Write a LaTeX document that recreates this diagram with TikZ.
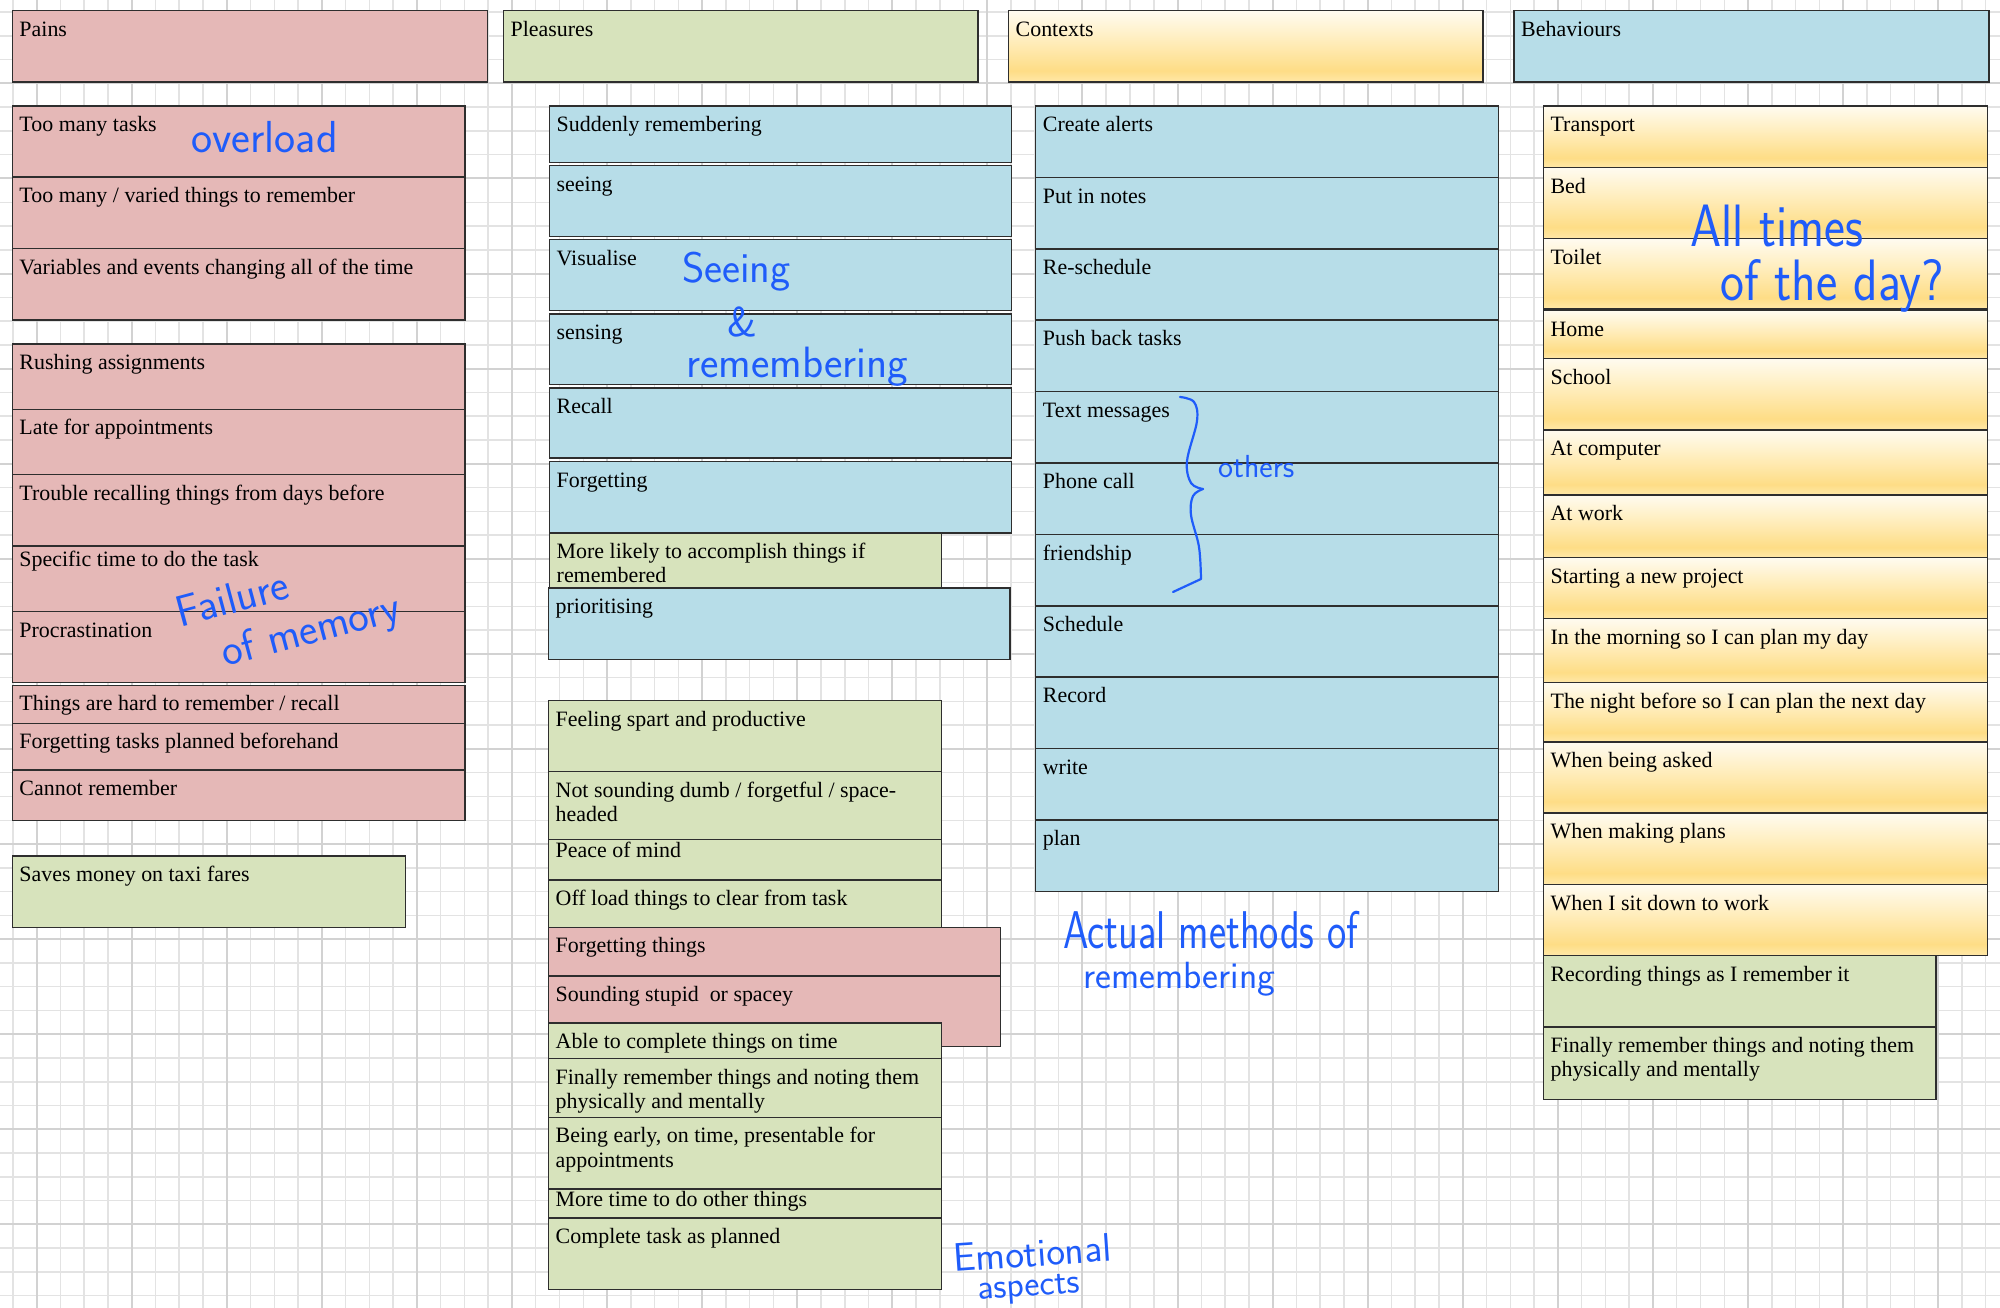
\documentclass[tikz,border=0pt]{standalone}
\usepackage{fontspec}
\setmainfont{Liberation Serif}
\definecolor{pinkF}{HTML}{E5B8B7}
\definecolor{greenF}{HTML}{D7E3BC}
\definecolor{blueF}{HTML}{B7DDE8}
\definecolor{edgeC}{HTML}{2E2E2E}
\definecolor{inkC}{HTML}{1F5CFA}
\definecolor{gridMinor}{HTML}{E3E3E3}
\definecolor{gridMajor}{HTML}{D2D2D2}
\definecolor{yTop}{HTML}{FFFBF0}
\definecolor{yMid}{HTML}{FFF0C6}
\definecolor{yGold}{HTML}{FEDD86}
\definecolor{yBot}{HTML}{FFE8A8}
\pgfdeclareverticalshading{yshade}{100bp}{color(0bp)=(yBot); color(25bp)=(yBot); color(33bp)=(yGold); color(58bp)=(yMid); color(75bp)=(yTop); color(100bp)=(yTop)}
\newcommand{\handfont}[1]{\sffamily\fontsize{#1}{#1}\selectfont}
\newcommand{\card}[8][8.6]{%
  \node[#3, minimum width=#6bp, minimum height=#7bp] (#2) at (#4,#5) {};
  \node[txt] (#2t) at ([xshift=7bp,yshift=-#1bp]#2.north west) {\strut#8};
}
\tikzset{
  box/.style={draw=edgeC, line width=1.5bp, anchor=north west, inner sep=0pt, outer sep=0pt},
  pinkbox/.style={box, fill=pinkF},
  greenbox/.style={box, fill=greenF},
  bluebox/.style={box, fill=blueF},
  yelbox/.style={box, shade, shading=yshade},
  txt/.style={anchor=north west, inner sep=0pt, align=left, text=black, font=\fontsize{22}{24.2}\selectfont},
  hand/.style={text=inkC, inner sep=0pt, anchor=base west},
  gminor/.style={draw=gridMinor, line width=1.5bp},
  gmajor/.style={draw=gridMajor, line width=2bp},
  inkline/.style={draw=inkC, line width=2.2bp, line cap=round, line join=round}
}
\begin{document}
\begin{tikzpicture}[x=1bp,y=-1bp]
\useasboundingbox (0,0) rectangle (2000,1308);
\fill[white] (0,0) rectangle (2000,1308);
% grid
\foreach \i in {0,...,83} \draw[gminor] ({12.8+23.77*\i},0) -- ({12.8+23.77*\i},1308);
\foreach \j in {0,...,54} \draw[gminor] (0,{12.1+23.77*\j}) -- (2000,{12.1+23.77*\j});
\foreach \i in {1,5,...,81} \draw[gmajor] ({12.8+23.77*\i},0) -- ({12.8+23.77*\i},1308);
\foreach \j in {3,7,...,51} \draw[gmajor] (0,{12.1+23.77*\j}) -- (2000,{12.1+23.77*\j});

% headers
\card{hPain}{pinkbox}{12.3}{10.7}{475}{71.3}{Pains}
\card{hPleas}{greenbox}{503.5}{10.7}{474.5}{71.3}{Pleasures}
\card{hCont}{yelbox}{1008.5}{10.7}{474.5}{71.3}{Contexts}
\card{hBeh}{bluebox}{1514}{10.7}{475}{71.3}{Behaviours}

% pains column
\card{p1}{pinkbox}{12.3}{106}{452.5}{71}{Too many tasks}
\card{p2}{pinkbox}{12.3}{177}{452.5}{71.5}{Too many / varied things to remember}
\card{p3}{pinkbox}{12.3}{248.5}{452.5}{71.5}{Variables and events changing all of the time}
\card{p4}{pinkbox}{12.3}{344}{452.5}{65.3}{Rushing assignments}
\card{p5}{pinkbox}{12.3}{409.3}{452.5}{65.4}{Late for appointments}
\card{p6}{pinkbox}{12.3}{474.7}{452.5}{71.3}{Trouble recalling things from days before}
\card[3]{p7}{pinkbox}{12.3}{546}{452.5}{65.7}{Specific time to do the task}
\card{p8}{pinkbox}{12.3}{611.7}{452.5}{71}{Procrastination}
\card{p9}{pinkbox}{12.3}{685.3}{452.5}{38}{Things are hard to remember / recall}
\card{p10}{pinkbox}{12.3}{723.3}{452.5}{46.7}{Forgetting tasks planned beforehand}
\card{p11}{pinkbox}{12.3}{770}{452.5}{50.7}{Cannot remember}
\card{p12}{greenbox}{12.3}{856}{393.4}{71.7}{Saves money on taxi fares}

% pleasures column
\card{q1}{bluebox}{549.5}{106}{462}{56.5}{Suddenly remembering}
\card{q2}{bluebox}{549.5}{165.7}{462}{71}{seeing}
\card{q3}{bluebox}{549.5}{239.7}{462}{71}{Visualise}
\card{q4}{bluebox}{549.5}{314}{462}{70.5}{sensing}
\card{q5}{bluebox}{549.5}{387.8}{462}{70.4}{Recall}
\card{q6}{bluebox}{549.5}{461.7}{462}{71.5}{Forgetting}
\card{q7}{greenbox}{549.5}{533.2}{391.8}{55}{More likely to accomplish things if\\remembered}
\card{q8}{bluebox}{548.5}{588.2}{461.7}{71.2}{prioritising}
\card{q9}{greenbox}{548.5}{700.5}{392.8}{71.2}{Feeling spart and productive}
\card{q10}{greenbox}{548.5}{771.7}{392.8}{67.6}{Not sounding dumb / forgetful / space-\\headed}
\card[1.6]{q11}{greenbox}{548.5}{839.3}{392.8}{40.7}{Peace of mind}
\card{q12}{greenbox}{548.5}{880}{392.8}{47.3}{Off load things to clear from task}
\card{q13}{pinkbox}{548.5}{927.3}{452}{48.5}{Forgetting things}
\card{q14}{pinkbox}{548.5}{975.8}{452}{70.5}{Sounding stupid\ \ or spacey}
\card{q15}{greenbox}{548.5}{1023}{392.8}{35.7}{Able to complete things on time}
\card{q16}{greenbox}{548.5}{1058.7}{392.8}{58.6}{Finally remember things and noting them\\physically and mentally}
\card{q17}{greenbox}{548.5}{1117.3}{392.8}{71.5}{Being early, on time, presentable for\\appointments}
\card[1.1]{q18}{greenbox}{548.5}{1188.8}{392.8}{29.2}{More time to do other things}
\card{q19}{greenbox}{548.5}{1218}{392.8}{71.5}{Complete task as planned}

% contexts column
\card{c1}{bluebox}{1035.7}{106}{463}{71.4}{Create alerts}
\card{c2}{bluebox}{1035.7}{177.4}{463}{71.4}{Put in notes}
\card{c3}{bluebox}{1035.7}{248.8}{463}{71.4}{Re-schedule}
\card{c4}{bluebox}{1035.7}{320.2}{463}{71.4}{Push back tasks}
\card{c5}{bluebox}{1035.7}{391.6}{463}{71.4}{Text messages}
\card{c6}{bluebox}{1035.7}{463}{463}{71.4}{Phone call}
\card{c7}{bluebox}{1035.7}{534.4}{463}{71.4}{friendship}
\card{c8}{bluebox}{1035.7}{605.8}{463}{71.4}{Schedule}
\card{c9}{bluebox}{1035.7}{677.2}{463}{71.4}{Record}
\card{c10}{bluebox}{1035.7}{748.6}{463}{71.4}{write}
\card{c11}{bluebox}{1035.7}{820}{463}{71.4}{plan}

% behaviours column
\card{b1}{yelbox}{1543.4}{106}{444}{61.7}{Transport}
\card{b2}{yelbox}{1543.4}{167.7}{444}{71}{Bed}
\card{b3}{yelbox}{1543.4}{238.7}{444}{70.3}{Toilet}
\card{b4}{yelbox}{1543.4}{310.5}{444}{48}{Home}
\card{b5}{yelbox}{1543.4}{358.5}{444}{71.5}{School}
\card{b6}{yelbox}{1543.4}{430}{444}{65}{At computer}
\card{b7}{yelbox}{1543.4}{495}{444}{62.4}{At work}
\card{b8}{yelbox}{1543.4}{557.4}{444}{61.2}{Starting a new project}
\card{b9}{yelbox}{1543.4}{618.6}{444}{64}{In the morning so I can plan my day}
\card{b10}{yelbox}{1543.4}{682.6}{444}{59.5}{The night before so I can plan the next day}
\card{b11}{yelbox}{1543.4}{742.1}{444}{71}{When being asked}
\card{b12}{yelbox}{1543.4}{813.1}{444}{71.5}{When making plans}
\card{b13}{yelbox}{1543.4}{884.6}{444}{71}{When I sit down to work}
\card{b14}{greenbox}{1543.4}{955.6}{392.8}{71.5}{Recording things as I remember it}
\card{b15}{greenbox}{1543.4}{1027.1}{392.8}{72.5}{Finally remember things and noting them\\physically and mentally}

% handwritten notes
\node[hand, font=\handfont{45}] (nOverload) at (191,153) {overload};
\node[hand, font={\sffamily\fontsize{44}{50}\selectfont}, rotate=15, anchor=north west, align=left] (nFail) at (172,598) {Failure\\\hspace*{34bp}of memory};
\node[hand, font=\handfont{43}] (nSee) at (682,283) {Seeing};
\node[hand, font=\handfont{42}, anchor=center] (nAmp) at (742,322) {\&};
\node[hand, font=\handfont{44}] (nRem) at (686,378) {remembering};
\node[hand, font=\handfont{50}, yscale=1.2] (nAll) at (1690,247) {All times};
\node[hand, font=\handfont{51}, yscale=1.15] (nDay) at (1720,301) {of the day?};
\node[hand, font=\handfont{32}] (nOthers) at (1218,477) {others};
\node[hand, font=\handfont{41}, yscale=1.3] (nAct) at (1063,948) {Actual methods of};
\node[hand, font=\handfont{38}] (nRem2) at (1083,988) {remembering};
\node[hand, font=\handfont{40}, rotate=4] (nEmo) at (954,1272) {Emotional};
\node[hand, font=\handfont{36}, rotate=4] (nAsp) at (978,1300) {aspects};

% hand-drawn brace
\draw[inkline] plot[smooth, tension=0.6] coordinates {(1180,397) (1194,402) (1197,421) (1187,461) (1191,483) (1203,489)};
\draw[inkline] plot[smooth, tension=0.6] coordinates {(1203,489) (1193,496) (1191,515) (1199,547) (1201,579)} -- (1173,592);
\end{tikzpicture}
\end{document}
